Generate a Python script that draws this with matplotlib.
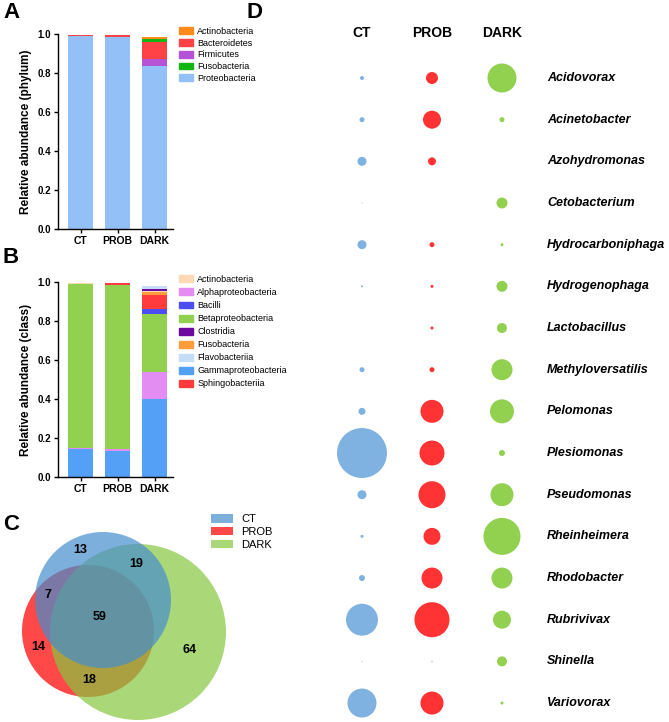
import matplotlib
matplotlib.use("Agg")
import matplotlib.pyplot as plt
from matplotlib.patches import Circle, Patch
import numpy as np

plt.rcParams['font.family'] = ['Liberation Sans', 'DejaVu Sans']

W, H = 669, 722
groups = ["CT", "PROB", "DARK"]

# panel A: phylum (stacked bottom -> top)
phylum_names = ["Proteobacteria", "Firmicutes", "Bacteroidetes", "Fusobacteria", "Actinobacteria"]
phylum_vals = {
    "Proteobacteria": [0.990, 0.985, 0.836],
    "Firmicutes":     [0.000, 0.000, 0.036],
    "Bacteroidetes":  [0.007, 0.012, 0.088],
    "Fusobacteria":   [0.000, 0.000, 0.016],
    "Actinobacteria": [0.000, 0.000, 0.009],
}
phylum_colors = {
    "Actinobacteria": "#ff8a1c", "Bacteroidetes": "#ff4245", "Firmicutes": "#b552d6",
    "Fusobacteria": "#12b512", "Proteobacteria": "#93c0f6",
}
phylum_legend = ["Actinobacteria", "Bacteroidetes", "Firmicutes", "Fusobacteria", "Proteobacteria"]

# panel B: class (stacked bottom -> top)
class_names = ["Gammaproteobacteria", "Alphaproteobacteria", "Betaproteobacteria", "Bacilli",
               "Sphingobacteriia", "Fusobacteria", "Actinobacteria", "Clostridia", "Flavobacteriia"]
class_vals = {
    "Gammaproteobacteria": [0.145, 0.133, 0.400],
    "Alphaproteobacteria": [0.004, 0.010, 0.136],
    "Betaproteobacteria":  [0.841, 0.842, 0.300],
    "Bacilli":             [0.000, 0.000, 0.024],
    "Sphingobacteriia":    [0.000, 0.012, 0.073],
    "Fusobacteria":        [0.000, 0.000, 0.016],
    "Actinobacteria":      [0.006, 0.000, 0.005],
    "Clostridia":          [0.000, 0.000, 0.008],
    "Flavobacteriia":      [0.000, 0.000, 0.018],
}
class_colors = {
    "Actinobacteria": "#fdd9b6", "Alphaproteobacteria": "#e38cf2", "Bacilli": "#4b4ff2",
    "Betaproteobacteria": "#92d04f", "Clostridia": "#6b0a9c", "Fusobacteria": "#ff9c3c",
    "Flavobacteriia": "#c6ddf8", "Gammaproteobacteria": "#53a0f6", "Sphingobacteriia": "#ff3b3d",
}
class_legend = ["Actinobacteria", "Alphaproteobacteria", "Bacilli", "Betaproteobacteria", "Clostridia",
                "Fusobacteria", "Flavobacteriia", "Gammaproteobacteria", "Sphingobacteriia"]

# panel C: venn counts
venn_counts = {"CT": 13, "CT_DARK": 19, "CT_PROB": 7, "ALL": 59, "PROB": 14, "PROB_DARK": 18, "DARK": 64}

# panel D: genus relative abundance (%)
genera = ["Acidovorax", "Acinetobacter", "Azohydromonas", "Cetobacterium", "Hydrocarboniphaga",
          "Hydrogenophaga", "Lactobacillus", "Methyloversatilis", "Pelomonas", "Plesiomonas",
          "Pseudomonas", "Rheinheimera", "Rhodobacter", "Rubrivivax", "Shinella", "Variovorax"]
ct_abund =   [0.16, 0.25, 0.81, 0.01, 0.81, 0.04, 0.00, 0.25, 0.49, 25.0, 0.81, 0.09, 0.36, 10.2, 0.01, 8.41]
prob_abund = [1.44, 3.24, 0.64, 0.00, 0.25, 0.09, 0.09, 0.25, 5.29, 6.25, 7.29, 2.89, 4.41, 12.3, 0.01, 5.29]
dark_abund = [8.41, 0.25, 0.00, 1.21, 0.09, 1.21, 1.00, 4.41, 5.76, 0.36, 5.29, 13.7, 4.41, 3.24, 1.00, 0.09]

col_ct, col_prob, col_dark = "#7fb2e0", "#ff3333", "#92d050"

fig = plt.figure(figsize=(W / 100, H / 100), dpi=100)


def px_axes(x0, y0, x1, y1):
    # pixel box (top-left origin) -> figure axes
    return fig.add_axes([x0 / W, 1 - y1 / H, (x1 - x0) / W, (y1 - y0) / H])


def stacked(ax, names, vals, colors, ylabel):
    x = np.arange(3)
    bottom = np.zeros(3)
    for n in names:
        v = np.array(vals[n])
        ax.bar(x, v, bottom=bottom, width=0.67, color=colors[n], linewidth=0)
        bottom += v
    ax.set_xlim(-0.61, 2.5)
    ax.set_ylim(0, 1.0)
    ax.set_yticks([0, 0.2, 0.4, 0.6, 0.8, 1.0])
    ax.set_yticklabels(["0.0", "0.2", "0.4", "0.6", "0.8", "1.0"], fontsize=7, fontweight="bold")
    ax.set_xticks(x)
    ax.set_xticklabels(groups, fontsize=7.5, fontweight="bold")
    ax.spines["top"].set_visible(False)
    ax.spines["right"].set_visible(False)
    for s in ["left", "bottom"]:
        ax.spines[s].set_linewidth(1.0)
    ax.tick_params(length=3, width=1.0, pad=2)
    ax.set_ylabel(ylabel, fontsize=8.5, fontweight="bold", labelpad=4)


# ---- A
axA = px_axes(58, 34, 173, 229)
stacked(axA, phylum_names, phylum_vals, phylum_colors, "Relative abundance (phylum)")
fig.legend([Patch(color=phylum_colors[n]) for n in phylum_legend], phylum_legend,
           loc="upper left", bbox_to_anchor=(179 / W, 1 - 27 / H), frameon=False,
           fontsize=6.5, handlelength=1.5, handleheight=0.8, labelspacing=0.3,
           handletextpad=0.5, borderaxespad=0, borderpad=0)

# ---- B
axB = px_axes(58, 282, 173, 477)
stacked(axB, class_names, class_vals, class_colors, "Relative abundance (class)")
fig.legend([Patch(color=class_colors[n]) for n in class_legend], class_legend,
           loc="upper left", bbox_to_anchor=(179 / W, 1 - 275 / H), frameon=False,
           fontsize=6.5, handlelength=1.5, handleheight=0.8, labelspacing=0.45,
           handletextpad=0.5, borderaxespad=0, borderpad=0)

# ---- C venn
axC = px_axes(0, 500, 240, 722)
axC.set_xlim(0, 240)
axC.set_ylim(722, 500)
axC.set_aspect("equal")
axC.axis("off")
venn_red, venn_green, venn_blue = "#ff3535", "#86c63e", "#458dcd"
axC.add_patch(Circle((88, 631), 66, color=venn_red, alpha=0.9, lw=0))
axC.add_patch(Circle((138, 632), 88, color=venn_green, alpha=0.7, lw=0))
axC.add_patch(Circle((103, 600), 68, color=venn_blue, alpha=0.7, lw=0))
venn_pos = {"CT": (80, 550), "CT_DARK": (136, 564), "CT_PROB": (48, 595), "ALL": (100, 617),
            "PROB": (38, 647), "PROB_DARK": (89, 680), "DARK": (190, 650)}
for k, v in venn_counts.items():
    axC.text(*venn_pos[k], str(v), ha="center", va="center", fontsize=9, fontweight="bold")
fig.legend([Patch(color=venn_blue, alpha=0.7, lw=0), Patch(color=venn_red, alpha=0.9, lw=0),
            Patch(color=venn_green, alpha=0.7, lw=0)], groups,
           loc="upper left", bbox_to_anchor=(211 / W, 1 - 514 / H), frameon=False,
           fontsize=8, handlelength=2.0, handleheight=0.8, labelspacing=0.25,
           handletextpad=0.7, borderaxespad=0, borderpad=0)

# ---- D bubbles
axD = px_axes(330, 55, 669, 722)
axD.set_xlim(-0.457, 4.386)
axD.set_ylim(15.455, -0.552)
axD.axis("off")
y = np.arange(len(genera))
k = 51.8
for i, (vals, c) in enumerate([(ct_abund, col_ct), (prob_abund, col_prob), (dark_abund, col_dark)]):
    axD.scatter(np.full(len(genera), i), y, s=np.array(vals) * k, color=c, lw=0)
    axD.text(i, -1.08, groups[i], ha="center", va="center", fontsize=10, fontweight="bold", clip_on=False)
for j, g in enumerate(genera):
    axD.text(2.643, j, g, ha="left", va="center", fontsize=9, fontweight="bold", style="italic")

# panel letters
for lab, (lx, ly) in {"A": (3, 12), "B": (3, 257), "C": (3, 524), "D": (247, 12)}.items():
    fig.text(lx / W, 1 - ly / H, lab, fontsize=16, fontweight="bold", ha="left", va="center")

fig.savefig("out.png", dpi=100)
